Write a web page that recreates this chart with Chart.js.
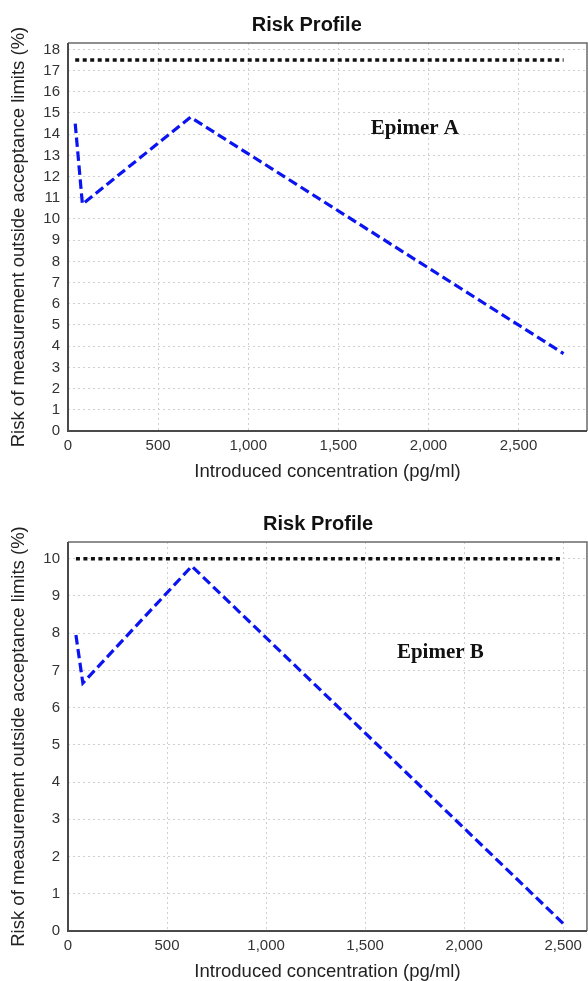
<!DOCTYPE html>
<html><head><meta charset="utf-8">
<script src="https://cdn.jsdelivr.net/npm/chart.js@4.4.1/dist/chart.umd.min.js"></script>
<style>
html,body{margin:0;padding:0;background:#fff;width:588px;height:981px;overflow:hidden}
canvas{position:absolute;left:0}
#c1{top:0}
#c2{top:490px}
</style></head><body>
<canvas id="c1" width="588" height="490"></canvas>
<canvas id="c2" width="588" height="491"></canvas>
<script>
// ---- data ----
const chartTitle = "Risk Profile";
const xAxisTitle = "Introduced concentration (pg/ml)";
const yAxisTitle = "Risk of measurement outside acceptance limits (%)";
const xTickValues = [0, 500, 1000, 1500, 2000, 2500];
const yTickValuesA = [0,1,2,3,4,5,6,7,8,9,10,11,12,13,14,15,16,17,18];
const yTickValuesB = [0,1,2,3,4,5,6,7,8,9,10];

const epimerALabel = "Epimer A";
const epimerAConc  = [40, 80, 680, 2750];
const epimerARisk  = [14.5, 10.7, 14.8, 3.65];
const epimerALimit = [17.5, 17.5, 17.5, 17.5];

const epimerBLabel = "Epimer B";
const epimerBConc  = [40, 75, 625, 2500];
const epimerBRisk  = [7.95, 6.66, 9.8, 0.2];
const epimerBLimit = [10, 10, 10, 10];

// ---- helpers ----
function pts(xs, ys){ return xs.map((x,i)=>({x:x, y:ys[i]})); }
const SANS = "'Liberation Sans', Arial, Helvetica, sans-serif";
const SERIF = "'Liberation Serif', 'Times New Roman', serif";

const framePlugin = {
  id:'frame',
  beforeDatasetsDraw(chart){
    const {ctx, chartArea:a} = chart;
    ctx.save();
    ctx.setLineDash([]);
    ctx.strokeStyle = '#6a6a6a';
    ctx.lineWidth = 1.5;
    ctx.beginPath();
    ctx.moveTo(a.left, a.top); ctx.lineTo(a.right, a.top); ctx.lineTo(a.right, a.bottom);
    ctx.stroke();
    ctx.strokeStyle = '#4a4a4a';
    ctx.lineWidth = 2;
    ctx.beginPath();
    ctx.moveTo(a.left, a.top); ctx.lineTo(a.left, a.bottom); ctx.lineTo(a.right, a.bottom);
    ctx.stroke();
    ctx.restore();
  }
};

const textPlugin = {
  id:'texts',
  afterDraw(chart, args, opts){
    const {ctx, chartArea:a, scales} = chart;
    ctx.save();
    ctx.fillStyle = '#111';
    ctx.textAlign = 'center';
    ctx.textBaseline = 'alphabetic';
    ctx.font = "bold 20px " + SANS;
    ctx.fillText(opts.title, a.left + (a.right - a.left) * opts.titleFrac, opts.titleBaseline);
    ctx.font = "bold 21px " + SERIF;
    ctx.fillText(opts.note, scales.x.getPixelForValue(opts.noteX), scales.y.getPixelForValue(opts.noteY));
    ctx.restore();
  }
};

function makeChart(id, conc, risk, limit, yTicks, cfg){
  return new Chart(document.getElementById(id), {
    type:'line',
    data:{datasets:[
      {data: pts(conc, limit), borderColor:'#111', borderWidth:3.5, borderDash:[4,3.5],
       pointRadius:0, tension:0, fill:false},
      {data: pts(conc, risk), borderColor:'#0a14f0', borderWidth:3.2, borderDash:[9.5,4.5],
       pointRadius:0, tension:0, fill:false}
    ]},
    options:{
      responsive:false, animation:false, devicePixelRatio:1,
      layout:{padding:{top:cfg.padTop, right:1, left:0, bottom:0}},
      plugins:{
        legend:{display:false}, tooltip:{enabled:false}, title:{display:false},
        texts:{title: chartTitle, titleFrac: cfg.titleFrac, titleBaseline: cfg.titleBaseline,
               note: cfg.note, noteX: cfg.noteX, noteY: cfg.noteY}
      },
      scales:{
        x:{type:'linear', min:0, max:cfg.xMax,
           afterFit(s){ s.height = cfg.xHeight; },
           afterBuildTicks(s){ s.ticks = xTickValues.map(v=>({value:v})); },
           ticks:{padding:6, color:'#333', font:{family:SANS, size:15},
                  callback:v=>Number(v).toLocaleString('en-US')},
           grid:{color:'#d0d0d0', lineWidth:1, drawTicks:false},
           border:{display:false, dash:[2,3]},
           title:{display:true, text:xAxisTitle, color:'#222',
                  font:{family:SANS, size:18.5, lineHeight:1},
                  padding:{top:0, bottom:cfg.xTitlePad}}
        },
        y:{type:'linear', min:0, max:cfg.yMax,
           afterFit(s){ s.width = 68; },
           afterBuildTicks(s){ s.ticks = yTicks.map(v=>({value:v})); },
           ticks:{padding:8, color:'#333', font:{family:SANS, size:15}},
           grid:{color:'#d0d0d0', lineWidth:1, drawTicks:false},
           border:{display:false, dash:[2,3]},
           title:{display:true, text:yAxisTitle, color:'#222',
                  font:{family:SANS, size:18.5, lineHeight:1},
                  padding:{top:10, bottom:0}}
        }
      }
    },
    plugins:[framePlugin, textPlugin]
  });
}

makeChart('c1', epimerAConc, epimerARisk, epimerALimit, yTickValuesA, {
  padTop:43, xHeight:59, xTitlePad:9, xMax:2880, yMax:18.3,
  titleFrac:0.46, titleBaseline:31,
  note:epimerALabel, noteX:1925, noteY:14.0
});
makeChart('c2', epimerBConc, epimerBRisk, epimerBLimit, yTickValuesB, {
  padTop:52, xHeight:50, xTitlePad:0, xMax:2620, yMax:10.45,
  titleFrac:0.482, titleBaseline:40,
  note:epimerBLabel, noteX:1880, noteY:7.33
});
</script>
</body></html>
